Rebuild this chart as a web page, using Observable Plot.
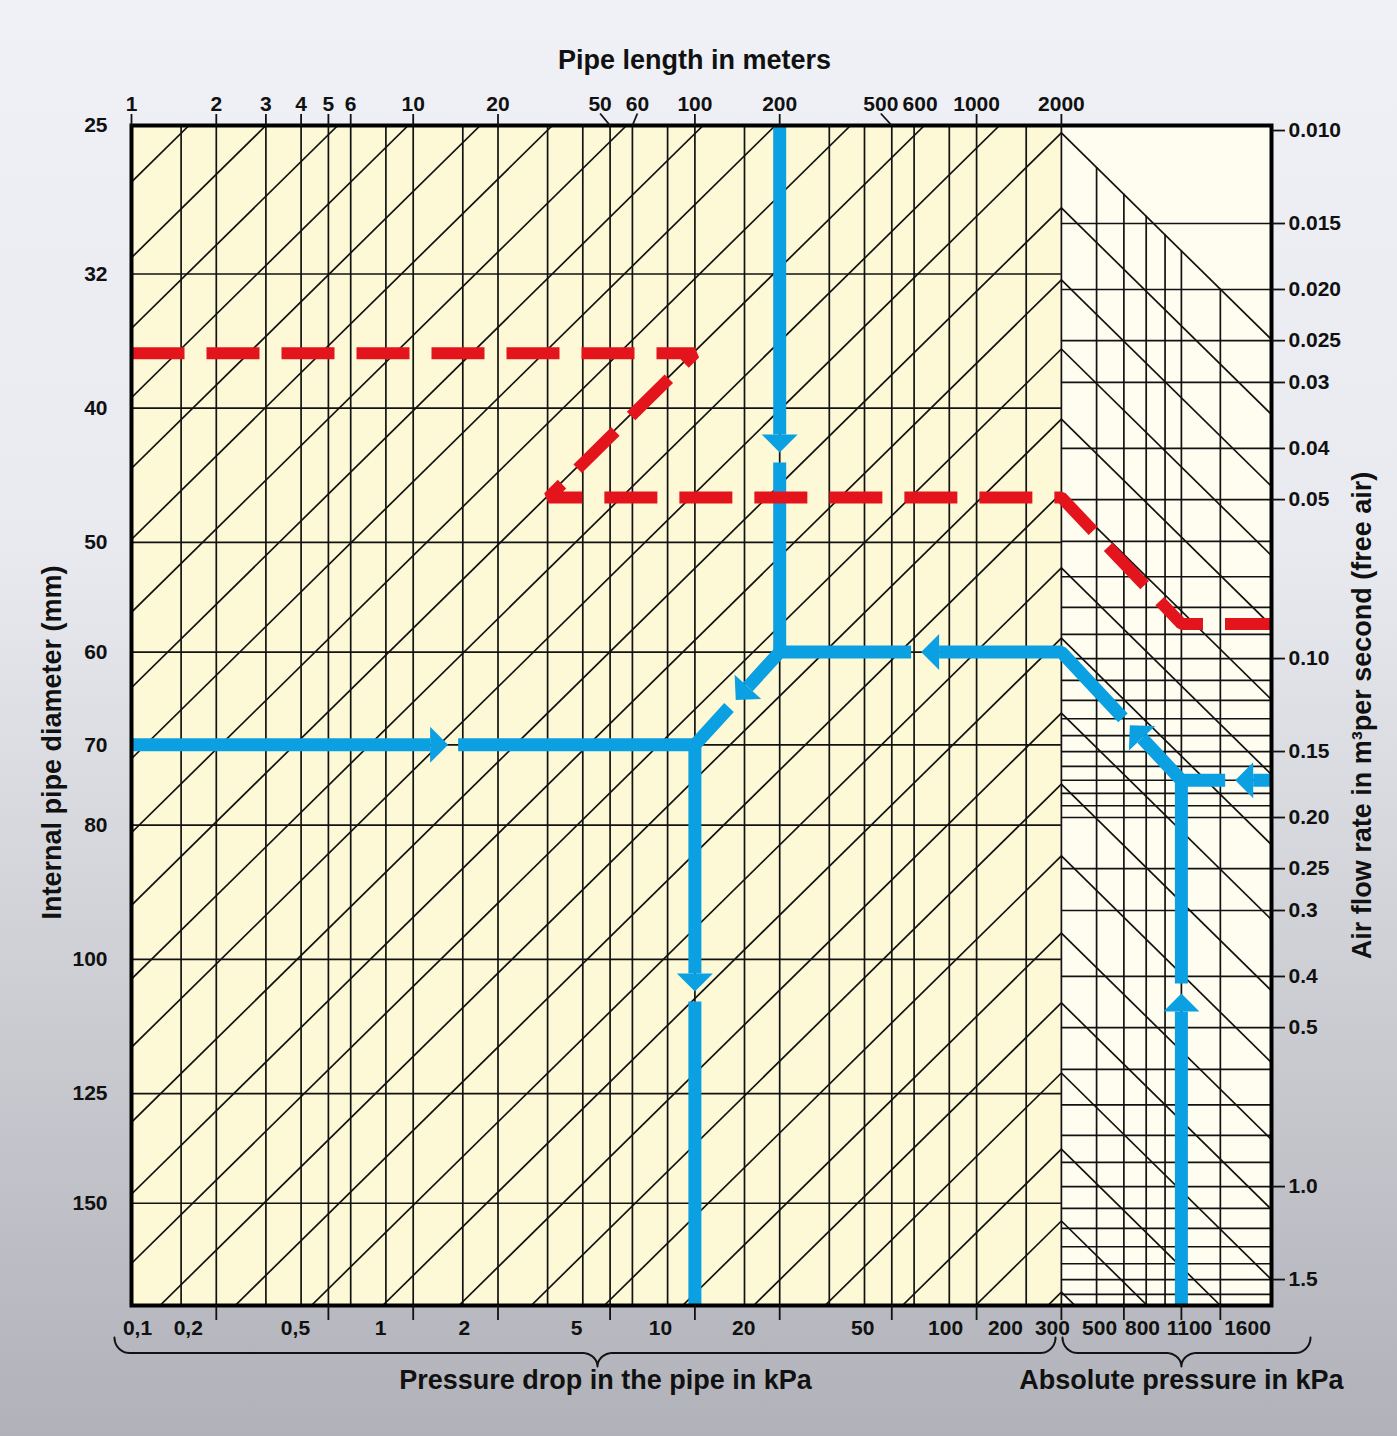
<!DOCTYPE html>
<html>
<head>
<meta charset="utf-8">
<script src="https://cdn.jsdelivr.net/npm/d3@7"></script>
<script src="https://cdn.jsdelivr.net/npm/@observablehq/plot@0.6"></script>
<style>
  html, body { margin: 0; padding: 0; }
  body {
    width: 1397px; height: 1436px; overflow: hidden;
    background: linear-gradient(to bottom, #eff1f6 0%, #e8eaef 38%, #b1b2b9 100%);
  }
  #chart svg { display: block; background: transparent !important; }
</style>
</head>
<body>
<div id="chart"></div>
<script>
// ---------- Nomogram scales ----------
// Horizontal: pipe length in metres (log); the absolute-pressure panel continues it to the right.
const lengthMin = 1, lengthJoin = 2000, lengthMax = 11140;
// Vertical: internal pipe diameter in mm (log), 25 mm at the top edge.
const diaMin = 25, diaMax = 177.8;
// Absolute pressure panel: 300 kPa stands on the 2000 m line, same decade length.
const pressureAtJoin = 300;
// Air flow scale on the right edge: two graduations and the diameter they stand level with.
const flowAnchors = [[0.01, 25.21], [1.5, 170.3]];
// Slanted lines follow length x diameter^-5.
const slopeExponent = 5;

// ---------- Graduations ----------
const lengthTicks = [1, 2, 3, 4, 5, 6, 10, 20, 50, 60, 100, 200, 500, 600, 1000, 2000];
const lengthLines = [1.5, 2, 3, 4, 5, 6, 8, 10, 15, 20, 30, 40, 50, 60, 80, 100, 150, 200, 300, 400, 500, 600, 800, 1000, 1500, 2000];
const lengthBottomTicks = [2, 5, 10, 20, 50, 100, 200, 500, 1000, 2000];
const diameterTicks = [25, 32, 40, 50, 60, 70, 80, 100, 125, 150];
const flowTicks = [0.010, 0.015, 0.020, 0.025, 0.03, 0.04, 0.05, 0.10, 0.15, 0.20, 0.25, 0.3, 0.4, 0.5, 1.0, 1.5];
const flowTickLabels = ["0.010", "0.015", "0.020", "0.025", "0.03", "0.04", "0.05", "0.10", "0.15", "0.20", "0.25", "0.3", "0.4", "0.5", "1.0", "1.5"];
const flowLines = [0.015, 0.020, 0.025, 0.03, 0.04, 0.05, 0.06, 0.07, 0.08, 0.09,
  0.10, 0.11, 0.12, 0.13, 0.14, 0.15, 0.16, 0.17, 0.18, 0.19, 0.20, 0.25, 0.3, 0.4, 0.5,
  0.6, 0.7, 0.8, 0.9, 1.0, 1.1, 1.2, 1.3, 1.4, 1.5, 1.6];
const pressureLines = [400, 500, 600, 700, 800, 1100];
const pressureTicks = [500, 800, 1100];

// Slanted lines leaving through the 25 mm edge: pipe length where each meets it.
const slopeLengthAt25 = [1.6, 3.0, 5.4, 9.6, 17.3, 31.2, 57.2, 107, 193, 357, 653, 1206];
// Chevrons meeting on the 2000 m line: diameter of each apex.
const slopeDiameterAt2000 = [25.31, 28.67, 32.31, 36.25, 40.73, 46.06, 52.17, 58.62, 66.40,
  74.73, 84.21, 95.72, 107.5, 120.8, 137.1, 154.5, 173.9];

// Bottom graduations: text and the pipe length it stands under.
const bottomLabels = ["0,1", "0,2", "0,5", "1", "2", "5", "10", "20", "50", "100", "200", "300", "500", "800", "1100", "1600"];
const bottomLabelAt = [1.05, 1.59, 3.82, 7.66, 15.2, 38.0, 75.5, 149, 394, 776, 1266, 1859, 2732, 3882, 5699, 9157];

// ---------- Conversions between the panels ----------
const pressureToLength = p => lengthJoin * p / pressureAtJoin;
const flowExp = Math.log(flowAnchors[1][1] / flowAnchors[0][1]) / Math.log(flowAnchors[1][0] / flowAnchors[0][0]);
const flowToDiameter = q => flowAnchors[0][1] * Math.pow(q / flowAnchors[0][0], flowExp);

// ---------- Worked examples ----------
// Blue example: routes in flow direction, arrowheads placed at a fraction t of a leg.
const blueFlow = 0.17, bluePressure = 800;
const blueRoutes = [
  {points: [[1, 70], [100, 70], [100, diaMax]], arrows: [{seg: 0, t: 0.562}, {seg: 1, t: 0.44}]},
  {points: [[200, diaMin], [200, 60]], arrows: [{seg: 0, t: 0.621}]},
  {points: [[lengthMax, flowToDiameter(blueFlow)], [pressureToLength(bluePressure), flowToDiameter(blueFlow)],
            [2000, 60], [200, 60], [100, 70]],
   arrows: [{seg: 0, t: 0.403}, {seg: 1, t: 0.43}, {seg: 2, t: 0.498}, {seg: 3, t: 0.518}]},
  {points: [[pressureToLength(bluePressure), diaMax], [pressureToLength(bluePressure), flowToDiameter(blueFlow)]],
   arrows: [{seg: 0, t: 0.594}]}
];
// Red example (dashed).
const redFlow = 0.086, redPressure = 800;
const redRoute = [[1, 36.5], [100, 36.5], [30.2, 46.4], [2000, 46.4],
  [pressureToLength(redPressure), flowToDiameter(redFlow)], [lengthMax, flowToDiameter(redFlow)]];

// ---------- Scales ----------
const xOpts = {type: "log", domain: [lengthMin, lengthMax], range: [131, 1271]};
const yOpts = {type: "log", domain: [diaMin, diaMax], range: [125, 1305]};
const sx = Plot.scale({x: xOpts});
const sy = Plot.scale({y: yOpts});
const toScreen = ([L, d]) => [sx.apply(L), sy.apply(d)];
const toData = ([px, py]) => ({x: sx.invert(px), y: sy.invert(py)});

// ---------- Route geometry (line pieces + arrowheads) ----------
const HEAD = 18, HALF = 18, GAP = 10;
function cutRoute(route, pieces, heads) {
  const P = route.points.map(toScreen);
  let cur = [P[0]];
  for (let i = 0; i < P.length - 1; i++) {
    const [ax, ay] = P[i], [bx, by] = P[i + 1];
    const len = Math.hypot(bx - ax, by - ay), ux = (bx - ax) / len, uy = (by - ay) / len;
    for (const a of route.arrows.filter(a => a.seg === i).sort((p, q) => p.t - q.t)) {
      const tx = ax + a.t * (bx - ax), ty = ay + a.t * (by - ay);
      const base = [tx - HEAD * ux, ty - HEAD * uy];
      cur.push(base);
      pieces.push(cur);
      heads.push([[tx, ty], [base[0] - HALF * uy, base[1] + HALF * ux], [base[0] + HALF * uy, base[1] - HALF * ux]]);
      cur = [[tx + GAP * ux, ty + GAP * uy]];
    }
    cur.push([bx, by]);
  }
  pieces.push(cur);
}
const bluePieces = [], blueHeads = [];
blueRoutes.forEach(r => cutRoute(r, bluePieces, blueHeads));
const blueLineData = bluePieces.flatMap((pc, k) => pc.map(p => ({...toData(p), piece: k})));
const blueHeadData = blueHeads.flatMap((h, k) => h.map(p => ({...toData(p), head: k})));
const redLineData = redRoute.map(([x, y]) => ({x, y}));

// ---------- Grid geometry ----------
const mainSlopes = [
  ...slopeLengthAt25.map(K => ({x1: K, y1: diaMin, x2: K * Math.pow(diaMin / diaMax, slopeExponent), y2: diaMax})),
  ...slopeDiameterAt2000.map(dA => ({x1: lengthJoin, y1: dA, x2: lengthJoin * Math.pow(dA / diaMax, slopeExponent), y2: diaMax}))
];
const rightSlopes = slopeDiameterAt2000.map(dA => ({x1: lengthJoin, y1: dA, x2: lengthJoin * Math.pow(diaMax / dA, slopeExponent), y2: diaMax}));
const pressureLineData = pressureLines.map(p => {
  const L = pressureToLength(p);
  return {x: L, y1: slopeDiameterAt2000[0] * Math.pow(L / lengthJoin, 1 / slopeExponent), y2: diaMax};
});

// ---------- Braces under the bottom scales ----------
function brace(L0, Lm, L1, id) {
  const x0 = sx.apply(L0), xm = sx.apply(Lm), x1 = sx.apply(L1);
  const yb = sy.apply(diaMax);
  const yEnd = yb + 32, yLine = yb + 47.5, yTip = yb + 61, rx = 15;
  const pts = [];
  const arc = (cx, cy, rX, rY, a0, a1) => {
    for (let k = 0; k <= 12; k++) {
      const a = a0 + (a1 - a0) * k / 12;
      pts.push([cx + rX * Math.cos(a), cy + rY * Math.sin(a)]);
    }
  };
  arc(x0 + rx, yEnd, rx, yLine - yEnd, Math.PI, Math.PI / 2);
  arc(xm - rx, yTip, rx, yTip - yLine, -Math.PI / 2, 0);
  arc(xm + rx, yTip, rx, yTip - yLine, Math.PI, 3 * Math.PI / 2);
  arc(x1 - rx, yEnd, rx, yLine - yEnd, Math.PI / 2, 0);
  return pts.map(p => ({...toData(p), brace: id}));
}
const braceData = [...brace(0.87, 45.1, 1906, "drop"), ...brace(2018, pressureToLength(800), 15320, "abs")];

// ---------- Top labels nudged apart, with leaders ----------
const topNudge = new Map([[50, -10], [60, 5], [500, -11], [600, 6]]);
const topPlain = lengthTicks.filter(v => !topNudge.has(v));
const topLabelData = lengthTicks.map(v => ({value: v, at: sx.invert(sx.apply(v) + (topNudge.get(v) || 0))}));
const leaderTop = sy.invert(sy.apply(diaMin) - 12);
const leaders = topLabelData.filter(d => topNudge.has(d.value) && d.value !== 600);

const flowLabelAt = new Map(flowTicks.map((q, i) => [flowToDiameter(q), flowTickLabels[i]]));

// ---------- Styles ----------
const blue = "#0aa0e1", red = "#e3141c", ink = "#121212";
const grid = {stroke: ink, strokeWidth: 1.7, clip: "frame"};
const font = {fontSize: 21, fontWeight: "bold"};
const title = {fontSize: 27, fontWeight: "bold", textAnchor: "middle", lineAnchor: "middle"};

const chart = Plot.plot({
  width: 1397,
  height: 1436,
  marginLeft: 131, marginRight: 126, marginTop: 125, marginBottom: 131,
  x: {...xOpts, label: null, axis: null},
  y: {...yOpts, label: null, axis: null},
  style: {background: "transparent", fontFamily: '"Liberation Sans", Arial, Helvetica, sans-serif', color: "#111"},
  marks: [
    // panel fills
    Plot.rect([0], {x1: lengthMin, x2: lengthJoin, y1: diaMin, y2: diaMax, fill: "#fdf9d7"}),
    Plot.rect([0], {x1: lengthJoin, x2: lengthMax, y1: diaMin, y2: diaMax, fill: "#fffdf0"}),

    // length / diameter field
    Plot.ruleY(diameterTicks.slice(1), {x1: lengthMin, x2: lengthJoin, ...grid}),
    Plot.ruleX(lengthLines, {y1: diaMin, y2: diaMax, ...grid}),
    Plot.link(mainSlopes, {x1: "x1", y1: "y1", x2: "x2", y2: "y2", ...grid}),

    // flow / absolute pressure field
    Plot.ruleY(flowLines, {y: flowToDiameter, x1: lengthJoin, x2: lengthMax, ...grid}),
    Plot.ruleX(pressureLineData, {x: "x", y1: "y1", y2: "y2", ...grid}),
    Plot.link(rightSlopes, {x1: "x1", y1: "y1", x2: "x2", y2: "y2", ...grid}),

    // blue example
    Plot.line(blueLineData, {x: "x", y: "y", z: "piece", stroke: blue, strokeWidth: 13,
      strokeLinejoin: "miter", strokeLinecap: "butt", clip: "frame"}),
    Plot.line(blueHeadData, {x: "x", y: "y", z: "head", fill: blue, stroke: "none"}),

    // red example
    Plot.line(redLineData, {x: "x", y: "y", stroke: red, strokeWidth: 12, strokeDasharray: "53,22",
      strokeLinejoin: "miter", strokeLinecap: "butt", clip: "frame"}),

    Plot.frame({stroke: "#000", strokeWidth: 4}),

    // top scale: pipe length
    Plot.axisX(topPlain, {anchor: "top", tickSize: 12, strokeWidth: 1.8, tickFormat: () => "", label: null}),
    Plot.link(leaders, {x1: "at", y1: leaderTop, x2: "value", y2: diaMin, stroke: ink, strokeWidth: 1.8}),
    Plot.text(topLabelData, {x: "at", frameAnchor: "top", dy: -15, lineAnchor: "bottom", textAnchor: "middle",
      text: d => String(d.value), ...font}),

    // left scale: diameter
    Plot.axisY(diameterTicks, {anchor: "left", tickSize: 0, tickPadding: 24,
      tickFormat: d => String(d), label: null, ...font}),

    // right scale: air flow
    Plot.axisY(flowTicks.map(flowToDiameter), {anchor: "right", tickSize: 13, tickPadding: 4, strokeWidth: 1.8,
      tickFormat: d => flowLabelAt.get(d), label: null, ...font}),

    // bottom scales: pressure drop and absolute pressure
    Plot.axisX([...lengthBottomTicks, ...pressureTicks.map(pressureToLength)], {anchor: "bottom", tickSize: 15,
      strokeWidth: 1.8, tickFormat: () => "", label: null}),
    Plot.text(bottomLabels, {x: (d, i) => bottomLabelAt[i], frameAnchor: "bottom", dy: 23,
      lineAnchor: "middle", textAnchor: "middle", ...font}),
    Plot.line(braceData, {x: "x", y: "y", z: "brace", stroke: ink, strokeWidth: 2}),

    // titles
    Plot.text(["Pipe length in meters"], {frameAnchor: "top", dx: -7, dy: -65, ...title}),
    Plot.text(["Internal pipe diameter (mm)"], {frameAnchor: "left", dx: -79, dy: 27, rotate: -90, ...title}),
    Plot.text(["Air flow rate in m³per second (free air)"], {frameAnchor: "right", dx: 91, rotate: -90, ...title}),
    Plot.text(["Pressure drop in the pipe in kPa"], {x: 45.1, frameAnchor: "bottom", dx: 8, dy: 75, ...title}),
    Plot.text(["Absolute pressure in kPa"], {x: pressureToLength(800), frameAnchor: "bottom", dy: 75, ...title})
  ]
});

document.getElementById("chart").appendChild(chart);
</script>
</body>
</html>
